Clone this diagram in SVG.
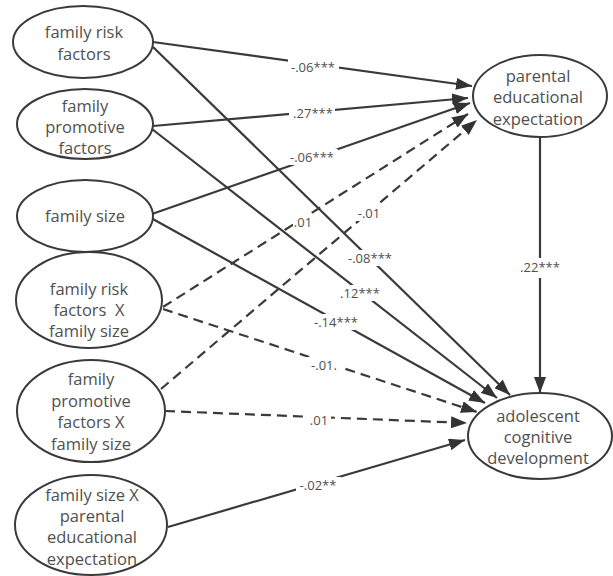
<svg xmlns="http://www.w3.org/2000/svg" width="613" height="576" viewBox="0 0 613 576">
<style>
.n ellipse{fill:#fff;stroke:#3a3a3a;stroke-width:2}
.n text{font-family:"Open Sans","DejaVu Sans",sans-serif;font-size:16.5px;fill:#505050;text-anchor:middle}
.c line{stroke:#3a3a3a;stroke-width:2.2;marker-end:url(#ah)}
.c .d{stroke-dasharray:10 6}
.l rect{fill:#fff}
.l text{font-family:"Open Sans","DejaVu Sans",sans-serif;font-size:13px;fill:#505050;text-anchor:middle}
</style>
<defs>
<marker id="ah" markerUnits="userSpaceOnUse" markerWidth="16" markerHeight="12" refX="16" refY="6" orient="auto">
<path d="M0,0 L16,6 L0,12 z" fill="#333"/>
</marker>
</defs>
<rect width="613" height="576" fill="#fff"/>
<g id="connectors" class="c">
<line x1="153" y1="42" x2="472" y2="86"/>
<line x1="153" y1="47" x2="510" y2="395"/>
<line x1="153" y1="126" x2="468" y2="98"/>
<line x1="152" y1="129" x2="497" y2="398"/>
<line x1="152" y1="214" x2="470" y2="103"/>
<line x1="151" y1="218" x2="485" y2="403"/>
<line class="d" x1="163" y1="307" x2="468" y2="114"/>
<line class="d" x1="163" y1="309" x2="477" y2="412"/>
<line class="d" x1="161" y1="389" x2="477" y2="120"/>
<line class="d" x1="165" y1="411" x2="467" y2="423"/>
<line x1="168" y1="527" x2="465" y2="440"/>
<line x1="540" y1="138" x2="540" y2="393"/>
</g>
<g id="n1" class="n"><ellipse cx="83" cy="42" rx="70" ry="36"/><text x="84" y="38">family risk</text><text x="84" y="60">factors</text></g>
<g id="n2" class="n"><ellipse cx="85" cy="124" rx="68" ry="35"/><text x="85" y="112">family</text><text x="85" y="133">promotive</text><text x="85" y="154">factors</text></g>
<g id="n3" class="n"><ellipse cx="85" cy="216" rx="68" ry="36"/><text x="85" y="222">family size</text></g>
<g id="n4" class="n"><ellipse cx="89" cy="300" rx="73" ry="48"/><text x="89" y="295">family risk</text><text x="89" y="316" xml:space="preserve">factors  X</text><text x="89" y="337">family size</text></g>
<g id="n5" class="n"><ellipse cx="91" cy="411" rx="74" ry="51"/><text x="91" y="385">family</text><text x="91" y="407">promotive</text><text x="91" y="428">factors X</text><text x="91" y="450">family size</text></g>
<g id="n6" class="n"><ellipse cx="91" cy="525" rx="76" ry="50"/><text x="92" y="501">family size X</text><text x="92" y="522">parental</text><text x="92" y="543">educational</text><text x="92" y="565">expectation</text></g>
<g id="n7" class="n"><ellipse cx="540" cy="96" rx="67" ry="41"/><text x="538" y="82">parental</text><text x="538" y="103">educational</text><text x="538" y="125">expectation</text></g>
<g id="n8" class="n"><ellipse cx="540" cy="436" rx="72" ry="43"/><text x="538" y="422">adolescent</text><text x="538" y="443">cognitive</text><text x="538" y="464">development</text></g>
<g id="labels" class="l">
<rect x="288" y="59" width="51" height="16"/><text x="313" y="72">-.06***</text>
<rect x="289" y="105" width="46" height="16"/><text x="313" y="118">.27***</text>
<rect x="286" y="149" width="52" height="16"/><text x="312" y="162">-.06***</text>
<rect x="293" y="214" width="21" height="16"/><text x="303" y="227">.01</text>
<rect x="356" y="205" width="27" height="16"/><text x="369" y="218">-.01</text>
<rect x="345" y="250" width="50" height="16"/><text x="370" y="263">-.08***</text>
<rect x="337" y="285" width="46" height="16"/><text x="360" y="298">.12***</text>
<rect x="310" y="314" width="52" height="16"/><text x="336" y="327">-.14***</text>
<rect x="307" y="357" width="34" height="16"/><text x="324" y="370">-.01.</text>
<rect x="308" y="412" width="23" height="16"/><text x="319" y="425">.01</text>
<rect x="296" y="477" width="45" height="16"/><text x="318" y="490">-.02**</text>
<rect x="517" y="258" width="46" height="20"/><text x="540" y="272">.22***</text>
</g>
</svg>
